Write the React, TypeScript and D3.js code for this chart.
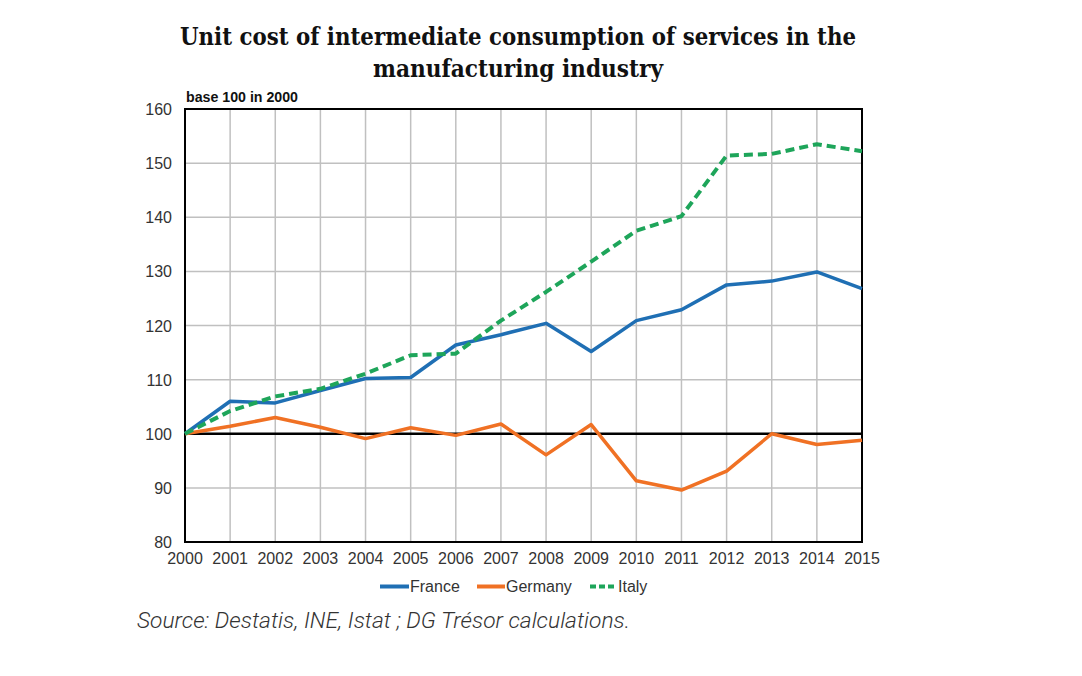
import React from "react";
import * as d3 from "d3";

const years = [2000,2001,2002,2003,2004,2005,2006,2007,2008,2009,2010,2011,2012,2013,2014,2015];
const france = [100,106,105.7,108,110.2,110.4,116.4,118.3,120.4,115.2,120.9,122.9,127.5,128.2,129.9,126.8];
const germany = [100,101.4,103,101.2,99.1,101.1,99.7,101.8,96.1,101.7,91.3,89.6,93.1,100,98,98.8];
const italy = [100,104.2,106.9,108.3,111.1,114.5,114.8,120.9,126.2,131.8,137.5,140.2,151.4,151.7,153.5,152.2];
const yTicks = [80,90,100,110,120,130,140,150,160];
const seriesNames = ["France","Germany","Italy"];
const seriesColors = ["#1f6fb4","#f07124","#1ea55a"];

export default function App() {
  const W = 1082, H = 676;
  const left = 185, right = 862, top = 109, bottom = 542;
  const x = d3.scaleLinear().domain([2000, 2015]).range([left, right]);
  const y = d3.scaleLinear().domain([80, 160]).range([bottom, top]);
  const line = d3.line<number>().x((_, i) => x(years[i])).y(d => y(d));
  const legendX = [380, 477, 590];
  const legendLineW = [29, 28, 27];
  const sans = "'Liberation Sans', Arial, sans-serif";
  return (
    <svg width={W} height={H} style={{ position: "absolute", left: 0, top: 0, background: "#fff" }}>
      <rect x={0} y={0} width={W} height={H} fill="#fff" />
      <text x={518} y={45} textAnchor="middle" fontFamily="'DejaVu Serif', serif" fontWeight="bold" fontSize={24} fill="#111" textLength={676} lengthAdjust="spacingAndGlyphs">Unit cost of intermediate consumption of services in the</text>
      <text x={518} y={77} textAnchor="middle" fontFamily="'DejaVu Serif', serif" fontWeight="bold" fontSize={24} fill="#111" textLength={290} lengthAdjust="spacingAndGlyphs">manufacturing industry</text>
      <text x={186} y={102} fontFamily={sans} fontWeight="bold" fontSize={14} fill="#111" textLength={112} lengthAdjust="spacingAndGlyphs">base 100 in 2000</text>
      {yTicks.filter(t => t !== 80 && t !== 160 && t !== 100).map(t => (
        <line key={"gy" + t} x1={left} x2={right} y1={y(t)} y2={y(t)} stroke="#c0c0c0" strokeWidth={1.5} />
      ))}
      {years.slice(1, -1).map(yr => (
        <line key={"gx" + yr} x1={x(yr)} x2={x(yr)} y1={top} y2={bottom} stroke="#c0c0c0" strokeWidth={1.5} />
      ))}
      <rect x={left} y={top} width={right - left} height={bottom - top} fill="none" stroke="#000" strokeWidth={2} />
      <line x1={left} x2={right} y1={y(100)} y2={y(100)} stroke="#000" strokeWidth={2.5} />
      {yTicks.map(t => (
        <text key={"yl" + t} x={172} y={y(t) + 6} textAnchor="end" fontFamily={sans} fontSize={16} fill="#333">{t}</text>
      ))}
      {years.map(yr => (
        <text key={"xl" + yr} x={x(yr)} y={564} textAnchor="middle" fontFamily={sans} fontSize={16} fill="#333">{yr}</text>
      ))}
      <path d={line(germany) || ""} fill="none" stroke={seriesColors[1]} strokeWidth={3.5} strokeLinejoin="round" />
      <path d={line(france) || ""} fill="none" stroke={seriesColors[0]} strokeWidth={3.5} strokeLinejoin="round" />
      <path d={line(italy) || ""} fill="none" stroke={seriesColors[2]} strokeWidth={4} strokeDasharray="9,5" strokeLinejoin="round" />
      {seriesNames.map((n, i) => (
        <g key={n}>
          <line x1={legendX[i]} x2={legendX[i] + legendLineW[i]} y1={586.5} y2={586.5} stroke={seriesColors[i]} strokeWidth={4} strokeDasharray={i === 2 ? "6,3" : undefined} />
          <text x={legendX[i] + legendLineW[i] + 1} y={592} fontFamily={sans} fontSize={16} fill="#333">{n}</text>
        </g>
      ))}
      <text x={137} y={628} fontFamily="Roboto, sans-serif" fontStyle="italic" fontWeight={300} fontSize={22.5} fill="#333" textLength={493} lengthAdjust="spacingAndGlyphs">Source: Destatis, INE, Istat ; DG Trésor calculations.</text>
    </svg>
  );
}
